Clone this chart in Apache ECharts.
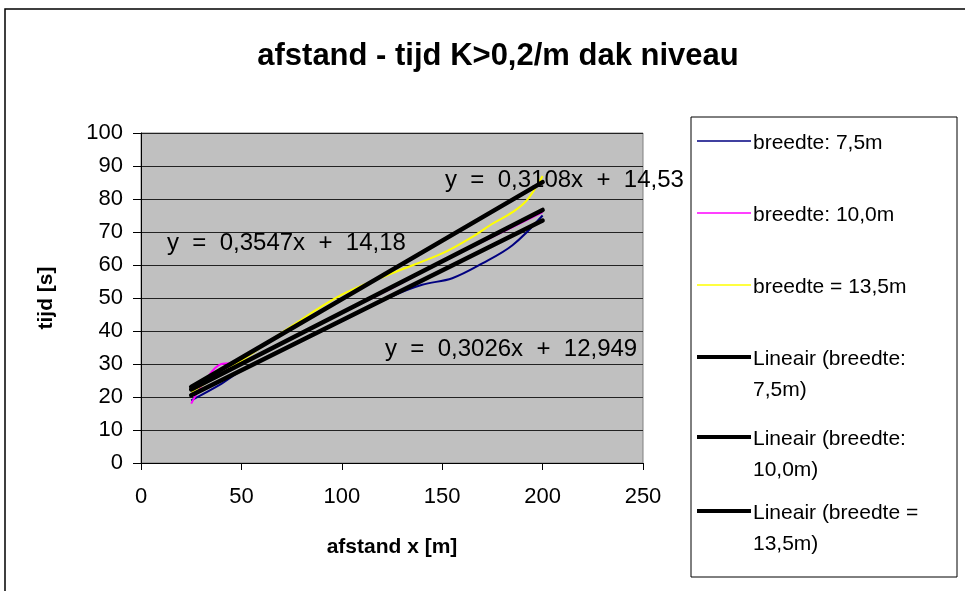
<!DOCTYPE html>
<html><head><meta charset="utf-8">
<script src="https://cdn.jsdelivr.net/npm/echarts@6/dist/echarts.min.js"></script>
<style>html,body{margin:0;padding:0;background:#fff}#c{width:965px;height:591px}</style>
</head><body><div id="c"></div><script>
// measured times per distance for three roof widths
const xBlue = [25, 40, 50, 75, 100, 125, 140, 155, 170, 185, 200];
const tBlue = [19, 24, 28, 35.5, 43, 50.5, 54, 56, 60.5, 66, 75];
const xMagenta = [25, 32, 40, 50, 75, 100, 125, 150, 175, 200];
const tMagenta = [18, 25, 30, 30.5, 38, 45.5, 53, 61, 68.5, 76];
const xYellow = [25, 50, 75, 100, 125, 150, 165, 175, 185, 192, 200];
const tYellow = [21.5, 31, 41.5, 51, 57.5, 63.5, 68.5, 72.5, 76, 79.5, 87];

const seriesNames = ['breedte: 7,5m', 'breedte: 10,0m', 'breedte = 13,5m'];
const trendNames = ['Lineair (breedte: 7,5m)', 'Lineair (breedte: 10,0m)', 'Lineair (breedte = 13,5m)'];
const trendLegend = ['Lineair (breedte:\n7,5m)', 'Lineair (breedte:\n10,0m)', 'Lineair (breedte =\n13,5m)'];
const slopes = [0.3026, 0.3108, 0.3547];
const intercepts = [12.949, 14.53, 14.18];
const trendRange = [25, 200];
const equationText = ['y  =  0,3026x  +  12,949', 'y  =  0,3108x  +  14,53', 'y  =  0,3547x  +  14,18'];
const colors = ['#000080', '#ff00ff', '#ffff00'];

const FONT = 'Liberation Sans, Arial, sans-serif';
const pair = (xs, ys) => xs.map((x, i) => [x, ys[i]]);
const measured = [pair(xBlue, tBlue), pair(xMagenta, tMagenta), pair(xYellow, tYellow)];
const trends = slopes.map((a, i) => trendRange.map(x => [x, a * x + intercepts[i]]));

const series = [];
measured.forEach((d, i) => series.push({
  name: seriesNames[i], type: 'line', data: d, smooth: 0.35, symbol: 'none',
  lineStyle: {color: colors[i], width: 2}, z: 2
}));
trends.forEach((d, i) => series.push({
  name: trendNames[i], type: 'line', data: d, symbol: 'none',
  lineStyle: {color: '#000', width: 4.5, cap: 'round'}, z: 3
}));

// legend box drawn as graphic items
const legendItems = [];
const legendTops = [141, 213, 285, 357, 437, 511];
const legendLabels = seriesNames.concat(trendLegend);
legendLabels.forEach((lab, i) => {
  const y = legendTops[i];
  legendItems.push({type: 'line', shape: {x1: 697, y1: y, x2: 751, y2: y},
    style: {stroke: i < 3 ? colors[i] : '#000', lineWidth: i < 3 ? 1.5 : 4}});
  legendItems.push({type: 'text', left: 753, top: y - 13,
    style: {text: lab, font: '21px ' + FONT, fill: '#000', lineHeight: 31}});
});

const eqPos = [[385, 337], [445, 168], [167, 231]];
const eqItems = equationText.map((t, i) => ({type: 'text', left: eqPos[i][0], top: eqPos[i][1], z: 10,
  style: {text: t, font: '24px ' + FONT, fill: '#000'}}));

const chart = echarts.init(document.getElementById('c'), null, {renderer: 'canvas'});
chart.setOption({
  animation: false,
  backgroundColor: '#fff',
  title: {text: 'afstand - tijd K>0,2/m dak niveau', left: 493, textAlign: 'center', top: 36,
    textStyle: {fontFamily: FONT, fontWeight: 'bold', fontSize: 31, color: '#000'}},
  grid: {left: 141, top: 133, right: 322, bottom: 128, show: true,
    backgroundColor: '#c0c0c0', borderColor: '#808080', borderWidth: 1},
  xAxis: {type: 'value', min: 0, max: 250, interval: 50,
    name: 'afstand x [m]', nameLocation: 'middle', nameGap: 74,
    nameTextStyle: {fontFamily: FONT, fontWeight: 'bold', fontSize: 21, color: '#000'},
    axisLine: {onZero: false, lineStyle: {color: '#000', width: 1}},
    axisTick: {show: true, length: 7, lineStyle: {color: '#000'}},
    axisLabel: {fontFamily: FONT, fontSize: 22, color: '#000', margin: 23},
    splitLine: {show: false}},
  yAxis: {type: 'value', min: 0, max: 100, interval: 10,
    name: 'tijd [s]', nameLocation: 'middle', nameGap: 84, nameRotate: 90,
    nameTextStyle: {fontFamily: FONT, fontWeight: 'bold', fontSize: 21, color: '#000'},
    axisLine: {onZero: false, lineStyle: {color: '#000', width: 1}},
    axisTick: {show: true, length: 8, lineStyle: {color: '#000'}},
    axisLabel: {fontFamily: FONT, fontSize: 22, color: '#000', margin: 18},
    splitLine: {show: true, lineStyle: {color: '#222', width: 1}}},
  series: series,
  graphic: [
    {type: 'rect', shape: {x: 5, y: 9, width: 980, height: 600}, style: {fill: 'none', stroke: '#000', lineWidth: 1.5}, z: -1},
    {type: 'rect', shape: {x: 691, y: 117, width: 266, height: 460}, style: {fill: '#fff', stroke: '#000', lineWidth: 1}}
  ].concat(legendItems).concat(eqItems)
});
</script></body></html>
